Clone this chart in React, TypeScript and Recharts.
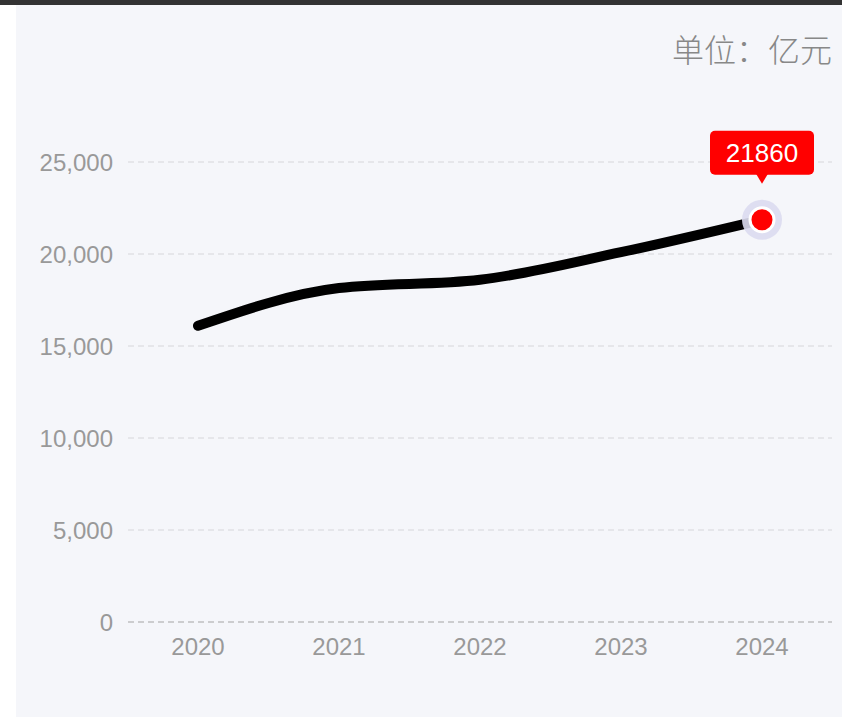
import React from 'react';
import { LineChart, Line, XAxis, YAxis, CartesianGrid } from 'recharts';

// yearly totals, 亿元
const years: string[] = ['2020', '2021', '2022', '2023', '2024'];
const totals: number[] = [16100, 18150, 18600, 20100, 21860];
const yTicks: number[] = [0, 5000, 10000, 15000, 20000, 25000];

const data = years.map((year, i) => ({ year, total: totals[i] }));

const FONT = '"Liberation Sans", Arial, "Noto Sans CJK SC", sans-serif';

// highlight the latest point with a halo and a value bubble
const LastDot = (props: any) => {
  const { cx, cy, index, value } = props;
  if (index !== data.length - 1 || cx == null || cy == null) return <g key={`d-${index}`} />;
  const w = 104;
  const h = 44;
  const top = cy - 89;
  return (
    <g key={`d-${index}`}>
      <circle cx={cx} cy={cy} r={20} fill="#dcdcef" opacity={0.9} />
      <circle cx={cx} cy={cy} r={12} fill="#ff0000" stroke="#ffffff" strokeWidth={3} />
      <rect x={cx - w / 2} y={top} width={w} height={h} rx={5} fill="#ff0000" />
      <path d={`M${cx - 6},${top + h - 1} L${cx + 6},${top + h - 1} L${cx},${top + h + 9} Z`} fill="#ff0000" />
      <text
        x={cx}
        y={top + h / 2 + 9}
        textAnchor="middle"
        fill="#ffffff"
        fontSize={26}
        fontFamily={FONT}
      >
        {Array.isArray(value) ? value[1] : value}
      </text>
    </g>
  );
};

const App: React.FC = () => {
  return (
    <div style={{ position: 'absolute', left: 0, top: 0, width: 842, height: 717, background: '#fff', overflow: 'hidden' }}>
      <div style={{ height: 5, background: '#333' }} />
      <div
        style={{
          position: 'absolute',
          left: 16,
          top: 5,
          width: 826,
          height: 712,
          background: '#f5f6fa',
          fontFamily: FONT,
        }}
      >
        <div
          style={{
            position: 'absolute',
            right: 10,
            top: 25,
            fontSize: 32,
            color: '#888',
            fontFamily: '"Noto Sans CJK SC", sans-serif',
            fontWeight: 300,
            lineHeight: '36px',
          }}
        >
          单位：亿元
        </div>
        <LineChart
          width={826}
          height={712}
          data={data}
          margin={{ top: 157, right: 10, left: 22, bottom: 65 }}
        >
          <CartesianGrid vertical={false} stroke="#d6d6da" strokeDasharray="6 4" />
          <XAxis
            dataKey="year"
            padding={{ left: 70, right: 70 }}
            axisLine={{ stroke: '#b4b4b4', strokeDasharray: '6 4' }}
            tickLine={false}
            tickSize={0}
            tickMargin={16}
            height={30}
            tick={{ fill: '#999', fontSize: 24, fontFamily: FONT }}
          />
          <YAxis
            width={90}
            domain={[0, 25000]}
            ticks={yTicks}
            axisLine={false}
            tickLine={false}
            tickSize={0}
            tickMargin={15}
            tickFormatter={(v: number) => v.toLocaleString('en-US')}
            tick={{ fill: '#999', fontSize: 24, fontFamily: FONT }}
          />
          <Line
            type="monotone"
            dataKey="total"
            stroke="#000"
            strokeWidth={10}
            strokeLinecap="round"
            dot={<LastDot />}
            activeDot={false}
            isAnimationActive={false}
          />
        </LineChart>
      </div>
    </div>
  );
};

export default App;
